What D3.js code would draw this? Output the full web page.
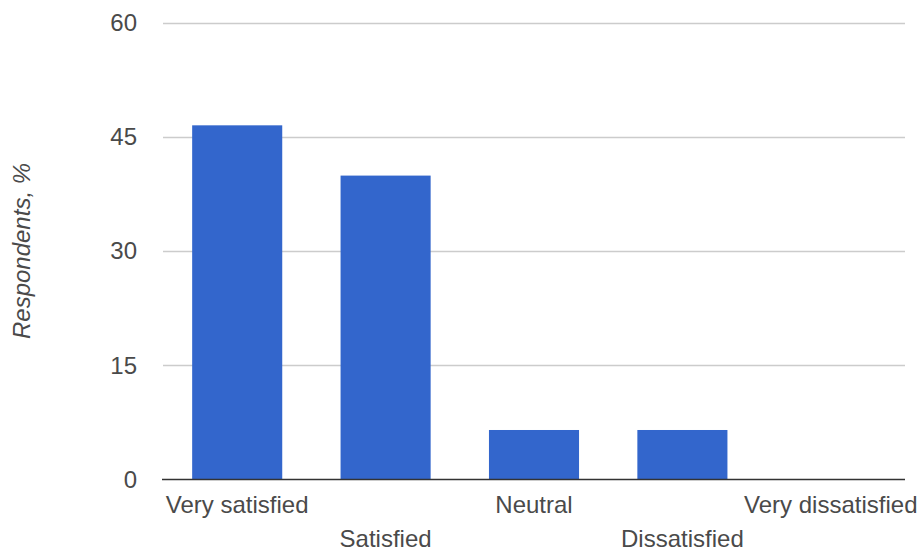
<!DOCTYPE html>
<html><head><meta charset="utf-8">
<script src="https://cdn.jsdelivr.net/npm/d3@7"></script>
<style>body{margin:0;background:#fff}svg{display:block}</style>
</head><body>
<svg id="c" width="924" height="554"></svg>
<script>
const categories = ["Very satisfied","Satisfied","Neutral","Dissatisfied","Very dissatisfied"];
const values = [46.5, 39.9, 6.5, 6.5, 0];
const yTicks = [0, 15, 30, 45, 60];
const yTitle = "Respondents, %";

(function () {
const svg = d3.select("#c");
const pLeft = 163, pRight = 905, pTop = 22.5, pBottom = 479.5;
const font = "'Liberation Sans', Arial, sans-serif";
const fs = 24;
const x = d3.scaleBand().domain(categories).range([pLeft, pRight]).paddingInner(0.393).paddingOuter(0.1965);
const y = d3.scaleLinear().domain([0, 60]).range([pBottom, pTop]);

// gridlines
svg.append("g").selectAll("line").data(yTicks.filter(t => t !== 0)).join("line")
  .attr("x1", pLeft).attr("x2", pRight)
  .attr("y1", d => Math.round(y(d)) + 0.5).attr("y2", d => Math.round(y(d)) + 0.5)
  .attr("stroke", "#cccccc").attr("stroke-width", 1.3);

// tick labels
svg.append("g").selectAll("text").data(yTicks).join("text")
  .attr("x", 137).attr("y", d => y(d)).attr("dy", "0.35em")
  .attr("text-anchor", "end").attr("font-family", font).attr("font-size", fs)
  .attr("fill", "#4a4a4a").text(d => d);

// bars
svg.append("g").selectAll("rect").data(values).join("rect")
  .attr("x", (d, i) => x(categories[i])).attr("width", x.bandwidth())
  .attr("y", d => y(d)).attr("height", d => y(0) - y(d))
  .attr("fill", "#3366cc");

// zero line
svg.append("line").attr("x1", pLeft - 1).attr("x2", pRight)
  .attr("y1", y(0)).attr("y2", y(0)).attr("stroke", "#333").attr("stroke-width", 1.5);

// x labels (staggered)
svg.append("g").selectAll("text").data(categories).join("text")
  .attr("x", d => x(d) + x.bandwidth() / 2)
  .attr("y", (d, i) => i % 2 === 0 ? 513 : 546.5)
  .attr("text-anchor", "middle").attr("font-family", font).attr("font-size", fs)
  .attr("fill", "#4a4a4a").text(d => d);

// y title
svg.append("text").attr("transform", "translate(30," + ((pTop + pBottom) / 2) + ") rotate(-90)")
  .attr("text-anchor", "middle").attr("font-family", font).attr("font-size", fs)
  .attr("font-style", "italic").attr("fill", "#4a4a4a").text(yTitle);
})();
</script>
</body></html>
